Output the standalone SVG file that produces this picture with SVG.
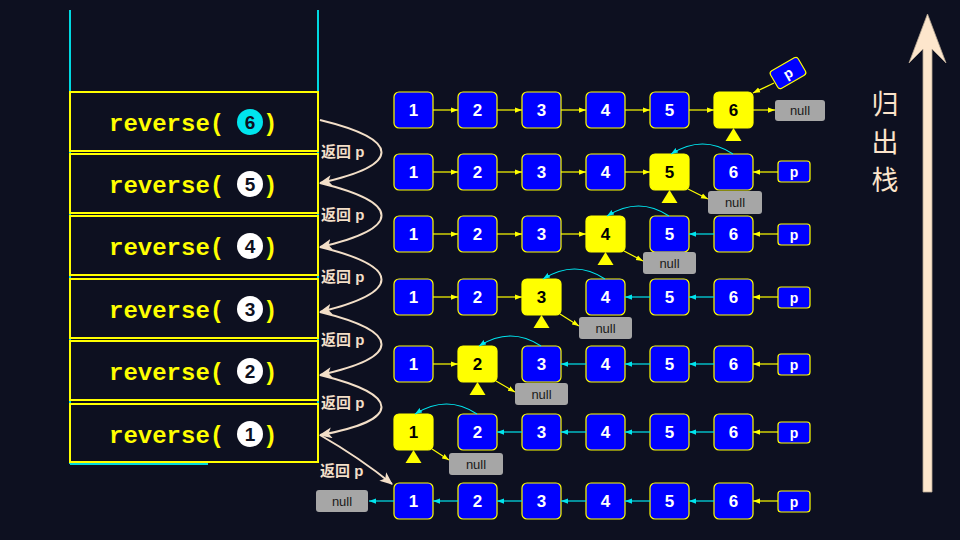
<svg xmlns="http://www.w3.org/2000/svg" width="960" height="540" viewBox="0 0 960 540">
<defs>
<style>
.bg{fill:#0d1020}
.frame{fill:#0d1020;stroke:#ffff00;stroke-width:2}
.call{font-family:"Liberation Mono",monospace;font-weight:bold;font-size:24px;fill:#ffff00}
.dig{font-family:"Liberation Sans",Arial,sans-serif;font-weight:bold;font-size:19px;fill:#0d1020;text-anchor:middle}
.ret{fill:none;stroke:#f3dfc8;stroke-width:2;marker-end:url(#ar)}
.lbl{font-family:"Liberation Sans","Noto Sans CJK SC",sans-serif;font-weight:bold;font-size:15px;fill:#f3dfc8}
.nb{fill:#0000ff;stroke:#ffff00;stroke-width:1.2}
.ny{fill:#ffff00;stroke:#ffff00;stroke-width:1.2}
.tw{font-family:"Liberation Sans",Arial,sans-serif;font-weight:bold;font-size:17px;fill:#ffffff;text-anchor:middle}
.tb{font-family:"Liberation Sans",Arial,sans-serif;font-weight:bold;font-size:17px;fill:#000000;text-anchor:middle}
.pt{font-family:"Liberation Sans",Arial,sans-serif;font-weight:bold;font-size:14px;fill:#ffffff;text-anchor:middle}
.nul{fill:#a6a6a6}
.nt{font-family:"Liberation Sans",Arial,sans-serif;font-size:13px;fill:#1a1a1a;text-anchor:middle}
.ey{stroke:#ffff00;stroke-width:1.2;fill:none;marker-end:url(#ay)}
.ec{stroke:#00e5ee;stroke-width:1.2;fill:none;marker-end:url(#ac)}
.tri{fill:#ffff00}
.cj{font-family:"Noto Sans CJK SC",sans-serif;font-size:27px;fill:#fbe4cb;text-anchor:middle}
</style>
<marker id="ay" viewBox="0 0 8 8" refX="8" refY="4" markerWidth="7" markerHeight="7" orient="auto" markerUnits="userSpaceOnUse"><path d="M0,1 L8,4 L0,7 z" fill="#ffff00"/></marker>
<marker id="ac" viewBox="0 0 8 8" refX="8" refY="4" markerWidth="7" markerHeight="7" orient="auto" markerUnits="userSpaceOnUse"><path d="M0,1 L8,4 L0,7 z" fill="#00e5ee"/></marker>
<marker id="ar" viewBox="0 0 12 10" refX="11" refY="5" markerWidth="13" markerHeight="11" orient="auto" markerUnits="userSpaceOnUse"><path d="M0,0 L12,5 L0,10 L3,5 z" fill="#f3dfc8"/></marker>
</defs>
<rect class="bg" x="0" y="0" width="960" height="540"/>

<g id="stack">
<line x1="70" y1="10" x2="70" y2="464" stroke="#00d8e0" stroke-width="2"/>
<line x1="318" y1="10" x2="318" y2="463" stroke="#00d8e0" stroke-width="2"/>
<line x1="70" y1="464" x2="208" y2="464" stroke="#00d8e0" stroke-width="2"/>
</g>

<g id="call6"><rect class="frame" x="70" y="92" width="248" height="59"/><text class="call" x="109" y="131">reverse(</text><circle cx="250" cy="122" r="13" fill="#00e5ee"/><text class="dig" x="250" y="129">6</text><text class="call" x="263" y="131">)</text></g>
<g id="call5"><rect class="frame" x="70" y="154" width="248" height="59"/><text class="call" x="109" y="193">reverse(</text><circle cx="250" cy="184" r="13" fill="#ffffff"/><text class="dig" x="250" y="191">5</text><text class="call" x="263" y="193">)</text></g>
<g id="call4"><rect class="frame" x="70" y="216" width="248" height="59"/><text class="call" x="109" y="255">reverse(</text><circle cx="250" cy="246" r="13" fill="#ffffff"/><text class="dig" x="250" y="253">4</text><text class="call" x="263" y="255">)</text></g>
<g id="call3"><rect class="frame" x="70" y="279" width="248" height="59"/><text class="call" x="109" y="318">reverse(</text><circle cx="250" cy="309" r="13" fill="#ffffff"/><text class="dig" x="250" y="316">3</text><text class="call" x="263" y="318">)</text></g>
<g id="call2"><rect class="frame" x="70" y="341" width="248" height="59"/><text class="call" x="109" y="380">reverse(</text><circle cx="250" cy="371" r="13" fill="#ffffff"/><text class="dig" x="250" y="378">2</text><text class="call" x="263" y="380">)</text></g>
<g id="call1"><rect class="frame" x="70" y="404" width="248" height="58"/><text class="call" x="109" y="443">reverse(</text><circle cx="250" cy="434" r="13" fill="#ffffff"/><text class="dig" x="250" y="441">1</text><text class="call" x="263" y="443">)</text></g>

<g id="returns">
<path class="ret" d="M320,120 C402,140 402,165 320,183"/>
<path class="ret" d="M320,183 C402,203 402,228 320,247"/>
<path class="ret" d="M320,247 C402,267 402,292 320,312"/>
<path class="ret" d="M320,312 C402,332 402,357 320,375"/>
<path class="ret" d="M320,375 C402,395 402,420 320,435"/>
<path class="ret" d="M320,435 Q360,458 392,484"/>
<text class="lbl" x="321" y="157">返回 p</text>
<text class="lbl" x="321" y="220">返回 p</text>
<text class="lbl" x="321" y="282">返回 p</text>
<text class="lbl" x="321" y="345">返回 p</text>
<text class="lbl" x="321" y="408">返回 p</text>
<text class="lbl" x="320" y="476">返回 p</text>
</g>

<!-- Row 1 -->
<g id="r1n1"><rect class="nb" x="394" y="92" width="39" height="36" rx="5"/><text class="tw" x="413.5" y="116">1</text></g>
<g id="r1n2"><rect class="nb" x="458" y="92" width="39" height="36" rx="5"/><text class="tw" x="477.5" y="116">2</text></g>
<g id="r1n3"><rect class="nb" x="522" y="92" width="39" height="36" rx="5"/><text class="tw" x="541.5" y="116">3</text></g>
<g id="r1n4"><rect class="nb" x="586" y="92" width="39" height="36" rx="5"/><text class="tw" x="605.5" y="116">4</text></g>
<g id="r1n5"><rect class="nb" x="650" y="92" width="39" height="36" rx="5"/><text class="tw" x="669.5" y="116">5</text></g>
<g id="r1n6"><rect class="ny" x="714" y="92" width="39" height="36" rx="5"/><text class="tb" x="733.5" y="116">6</text><polygon class="tri" points="733.5,128 725.5,141 741.5,141"/></g>
<g id="r1null"><rect class="nul" x="775" y="100" width="50" height="21" rx="3"/><text class="nt" x="800" y="115">null</text></g>
<g id="r1p" transform="translate(788,73) rotate(-30)"><rect class="nb" x="-16" y="-10" width="32" height="20" rx="3"/><text class="pt" x="0" y="5">p</text></g>

<!-- Row 2 -->
<g id="r2n1"><rect class="nb" x="394" y="154" width="39" height="36" rx="5"/><text class="tw" x="413.5" y="178">1</text></g>
<g id="r2n2"><rect class="nb" x="458" y="154" width="39" height="36" rx="5"/><text class="tw" x="477.5" y="178">2</text></g>
<g id="r2n3"><rect class="nb" x="522" y="154" width="39" height="36" rx="5"/><text class="tw" x="541.5" y="178">3</text></g>
<g id="r2n4"><rect class="nb" x="586" y="154" width="39" height="36" rx="5"/><text class="tw" x="605.5" y="178">4</text></g>
<g id="r2n5"><rect class="ny" x="650" y="154" width="39" height="36" rx="5"/><text class="tb" x="669.5" y="178">5</text><polygon class="tri" points="669.5,190 661.5,203 677.5,203"/></g>
<g id="r2n6"><rect class="nb" x="714" y="154" width="39" height="36" rx="5"/><text class="tw" x="733.5" y="178">6</text></g>
<g id="r2null"><rect class="nul" x="708" y="191" width="54" height="23" rx="3"/><text class="nt" x="735" y="207">null</text></g>
<g id="r2p"><rect class="nb" x="778" y="161" width="32" height="21" rx="3"/><text class="pt" x="794" y="177">p</text></g>

<!-- Row 3 -->
<g id="r3n1"><rect class="nb" x="394" y="216" width="39" height="36" rx="5"/><text class="tw" x="413.5" y="240">1</text></g>
<g id="r3n2"><rect class="nb" x="458" y="216" width="39" height="36" rx="5"/><text class="tw" x="477.5" y="240">2</text></g>
<g id="r3n3"><rect class="nb" x="522" y="216" width="39" height="36" rx="5"/><text class="tw" x="541.5" y="240">3</text></g>
<g id="r3n4"><rect class="ny" x="586" y="216" width="39" height="36" rx="5"/><text class="tb" x="605.5" y="240">4</text><polygon class="tri" points="605.5,252 597.5,265 613.5,265"/></g>
<g id="r3n5"><rect class="nb" x="650" y="216" width="39" height="36" rx="5"/><text class="tw" x="669.5" y="240">5</text></g>
<g id="r3n6"><rect class="nb" x="714" y="216" width="39" height="36" rx="5"/><text class="tw" x="733.5" y="240">6</text></g>
<g id="r3null"><rect class="nul" x="643" y="252" width="53" height="22" rx="3"/><text class="nt" x="669.5" y="268">null</text></g>
<g id="r3p"><rect class="nb" x="778" y="224" width="32" height="21" rx="3"/><text class="pt" x="794" y="240">p</text></g>

<!-- Row 4 -->
<g id="r4n1"><rect class="nb" x="394" y="279" width="39" height="36" rx="5"/><text class="tw" x="413.5" y="303">1</text></g>
<g id="r4n2"><rect class="nb" x="458" y="279" width="39" height="36" rx="5"/><text class="tw" x="477.5" y="303">2</text></g>
<g id="r4n3"><rect class="ny" x="522" y="279" width="39" height="36" rx="5"/><text class="tb" x="541.5" y="303">3</text><polygon class="tri" points="541.5,315 533.5,328 549.5,328"/></g>
<g id="r4n4"><rect class="nb" x="586" y="279" width="39" height="36" rx="5"/><text class="tw" x="605.5" y="303">4</text></g>
<g id="r4n5"><rect class="nb" x="650" y="279" width="39" height="36" rx="5"/><text class="tw" x="669.5" y="303">5</text></g>
<g id="r4n6"><rect class="nb" x="714" y="279" width="39" height="36" rx="5"/><text class="tw" x="733.5" y="303">6</text></g>
<g id="r4null"><rect class="nul" x="579" y="317" width="53" height="22" rx="3"/><text class="nt" x="605.5" y="333">null</text></g>
<g id="r4p"><rect class="nb" x="778" y="287" width="32" height="21" rx="3"/><text class="pt" x="794" y="303">p</text></g>

<!-- Row 5 -->
<g id="r5n1"><rect class="nb" x="394" y="346" width="39" height="36" rx="5"/><text class="tw" x="413.5" y="370">1</text></g>
<g id="r5n2"><rect class="ny" x="458" y="346" width="39" height="36" rx="5"/><text class="tb" x="477.5" y="370">2</text><polygon class="tri" points="477.5,382 469.5,395 485.5,395"/></g>
<g id="r5n3"><rect class="nb" x="522" y="346" width="39" height="36" rx="5"/><text class="tw" x="541.5" y="370">3</text></g>
<g id="r5n4"><rect class="nb" x="586" y="346" width="39" height="36" rx="5"/><text class="tw" x="605.5" y="370">4</text></g>
<g id="r5n5"><rect class="nb" x="650" y="346" width="39" height="36" rx="5"/><text class="tw" x="669.5" y="370">5</text></g>
<g id="r5n6"><rect class="nb" x="714" y="346" width="39" height="36" rx="5"/><text class="tw" x="733.5" y="370">6</text></g>
<g id="r5null"><rect class="nul" x="515" y="383" width="53" height="22" rx="3"/><text class="nt" x="541.5" y="399">null</text></g>
<g id="r5p"><rect class="nb" x="778" y="354" width="32" height="21" rx="3"/><text class="pt" x="794" y="370">p</text></g>

<!-- Row 6 -->
<g id="r6n1"><rect class="ny" x="394" y="414" width="39" height="36" rx="5"/><text class="tb" x="413.5" y="438">1</text><polygon class="tri" points="413.5,450 405.5,463 421.5,463"/></g>
<g id="r6n2"><rect class="nb" x="458" y="414" width="39" height="36" rx="5"/><text class="tw" x="477.5" y="438">2</text></g>
<g id="r6n3"><rect class="nb" x="522" y="414" width="39" height="36" rx="5"/><text class="tw" x="541.5" y="438">3</text></g>
<g id="r6n4"><rect class="nb" x="586" y="414" width="39" height="36" rx="5"/><text class="tw" x="605.5" y="438">4</text></g>
<g id="r6n5"><rect class="nb" x="650" y="414" width="39" height="36" rx="5"/><text class="tw" x="669.5" y="438">5</text></g>
<g id="r6n6"><rect class="nb" x="714" y="414" width="39" height="36" rx="5"/><text class="tw" x="733.5" y="438">6</text></g>
<g id="r6null"><rect class="nul" x="449" y="453" width="54" height="22" rx="3"/><text class="nt" x="476" y="469">null</text></g>
<g id="r6p"><rect class="nb" x="778" y="422" width="32" height="21" rx="3"/><text class="pt" x="794" y="438">p</text></g>

<!-- Row 7 -->
<g id="r7n1"><rect class="nb" x="394" y="483" width="39" height="36" rx="5"/><text class="tw" x="413.5" y="507">1</text></g>
<g id="r7n2"><rect class="nb" x="458" y="483" width="39" height="36" rx="5"/><text class="tw" x="477.5" y="507">2</text></g>
<g id="r7n3"><rect class="nb" x="522" y="483" width="39" height="36" rx="5"/><text class="tw" x="541.5" y="507">3</text></g>
<g id="r7n4"><rect class="nb" x="586" y="483" width="39" height="36" rx="5"/><text class="tw" x="605.5" y="507">4</text></g>
<g id="r7n5"><rect class="nb" x="650" y="483" width="39" height="36" rx="5"/><text class="tw" x="669.5" y="507">5</text></g>
<g id="r7n6"><rect class="nb" x="714" y="483" width="39" height="36" rx="5"/><text class="tw" x="733.5" y="507">6</text></g>
<g id="r7null"><rect class="nul" x="316" y="490" width="52" height="22" rx="3"/><text class="nt" x="342" y="506">null</text></g>
<g id="r7p"><rect class="nb" x="778" y="491" width="32" height="21" rx="3"/><text class="pt" x="794" y="507">p</text></g>

<g id="connectors">
<!-- row 1 -->
<line class="ey" x1="433" y1="110" x2="458" y2="110"/>
<line class="ey" x1="497" y1="110" x2="522" y2="110"/>
<line class="ey" x1="561" y1="110" x2="586" y2="110"/>
<line class="ey" x1="625" y1="110" x2="650" y2="110"/>
<line class="ey" x1="689" y1="110" x2="714" y2="110"/>
<line class="ey" x1="753" y1="110" x2="775" y2="110"/>
<line class="ey" x1="774" y1="83" x2="753" y2="93"/>
<!-- row 2 -->
<line class="ey" x1="433" y1="172" x2="458" y2="172"/>
<line class="ey" x1="497" y1="172" x2="522" y2="172"/>
<line class="ey" x1="561" y1="172" x2="586" y2="172"/>
<line class="ey" x1="625" y1="172" x2="650" y2="172"/>
<line class="ey" x1="688" y1="189" x2="708" y2="199"/>
<path class="ec" d="M733,154 Q703,134 671,154"/>
<line class="ey" x1="778" y1="172" x2="753" y2="172"/>
<!-- row 3 -->
<line class="ey" x1="433" y1="234" x2="458" y2="234"/>
<line class="ey" x1="497" y1="234" x2="522" y2="234"/>
<line class="ey" x1="561" y1="234" x2="586" y2="234"/>
<line class="ey" x1="624" y1="251" x2="643" y2="261"/>
<path class="ec" d="M669,216 Q639,196 607,216"/>
<line class="ec" x1="714" y1="234" x2="689" y2="234"/>
<line class="ey" x1="778" y1="234" x2="753" y2="234"/>
<!-- row 4 -->
<line class="ey" x1="433" y1="297" x2="458" y2="297"/>
<line class="ey" x1="497" y1="297" x2="522" y2="297"/>
<line class="ey" x1="560" y1="314" x2="579" y2="326"/>
<path class="ec" d="M605,279 Q575,259 543,279"/>
<line class="ec" x1="650" y1="297" x2="625" y2="297"/>
<line class="ec" x1="714" y1="297" x2="689" y2="297"/>
<line class="ey" x1="778" y1="297" x2="753" y2="297"/>
<!-- row 5 -->
<line class="ey" x1="433" y1="364" x2="458" y2="364"/>
<line class="ey" x1="496" y1="381" x2="515" y2="392"/>
<path class="ec" d="M541,346 Q511,326 479,346"/>
<line class="ec" x1="586" y1="364" x2="561" y2="364"/>
<line class="ec" x1="650" y1="364" x2="625" y2="364"/>
<line class="ec" x1="714" y1="364" x2="689" y2="364"/>
<line class="ey" x1="778" y1="364" x2="753" y2="364"/>
<!-- row 6 -->
<line class="ey" x1="432" y1="449" x2="449" y2="460"/>
<path class="ec" d="M477,414 Q447,394 415,414"/>
<line class="ec" x1="522" y1="432" x2="497" y2="432"/>
<line class="ec" x1="586" y1="432" x2="561" y2="432"/>
<line class="ec" x1="650" y1="432" x2="625" y2="432"/>
<line class="ec" x1="714" y1="432" x2="689" y2="432"/>
<line class="ey" x1="778" y1="432" x2="753" y2="432"/>
<!-- row 7 -->
<line class="ec" x1="394" y1="501" x2="369" y2="501"/>
<line class="ec" x1="458" y1="501" x2="433" y2="501"/>
<line class="ec" x1="522" y1="501" x2="497" y2="501"/>
<line class="ec" x1="586" y1="501" x2="561" y2="501"/>
<line class="ec" x1="650" y1="501" x2="625" y2="501"/>
<line class="ec" x1="714" y1="501" x2="689" y2="501"/>
<line class="ey" x1="778" y1="501" x2="753" y2="501"/>
</g>

<g id="popArrow">
<path d="M927.5,14 L946,63 L932,49 L932,492 L923,492 L923,49 L909,63 Z" fill="#fde6cc" stroke="#b8a894" stroke-width="0.8"/>
<text class="cj" x="885" y="114">归</text>
<text class="cj" x="885" y="152">出</text>
<text class="cj" x="885" y="190">栈</text>
</g>
</svg>
